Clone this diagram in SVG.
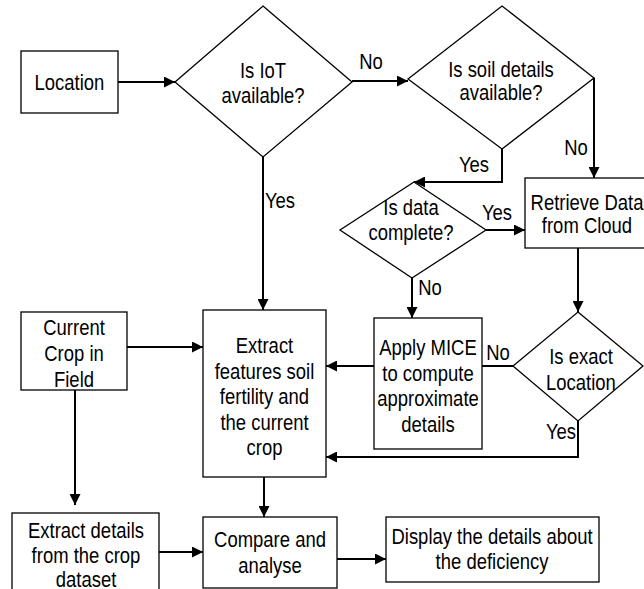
<svg xmlns="http://www.w3.org/2000/svg" width="644" height="589" viewBox="0 0 644 589">
<style>
.s{fill:#fff;stroke:#000;stroke-width:1.3}
.c{fill:none;stroke:#000;stroke-width:2}
text{font-family:"Liberation Sans",Arial,sans-serif;font-size:22px;fill:#000;text-anchor:middle;transform-box:fill-box;transform-origin:center;transform:scaleX(0.84)}
</style>
<defs>
<marker id="a" markerUnits="userSpaceOnUse" markerWidth="11" markerHeight="11" refX="11" refY="5.5" orient="auto" viewBox="0 0 11 11"><path d="M0,0 L11,5.5 L0,11 z" fill="#000"/></marker>
</defs>
<rect width="644" height="589" fill="#fff"/>
<g id="connectors">
<path class="c" d="M118,82 H175" marker-end="url(#a)"/>
<path class="c" d="M352,81 H408" marker-end="url(#a)"/>
<path class="c" d="M594,78 V178" marker-end="url(#a)"/>
<path class="c" d="M502,149 V182 H414" marker-end="url(#a)"/>
<path class="c" d="M486,230 H525" marker-end="url(#a)"/>
<path class="c" d="M578,248 V312" marker-end="url(#a)"/>
<path class="c" d="M412,278 V318" marker-end="url(#a)"/>
<path class="c" d="M513,366 H482"/>
<path class="c" d="M374,366 H326" marker-end="url(#a)"/>
<path class="c" d="M578,421 V457 H326" marker-end="url(#a)"/>
<path class="c" d="M263,157 V310" marker-end="url(#a)"/>
<path class="c" d="M127,347 H203" marker-end="url(#a)"/>
<path class="c" d="M75,390 V505" marker-end="url(#a)"/>
<path class="c" d="M264,477 V517" marker-end="url(#a)"/>
<path class="c" d="M159,552 H203" marker-end="url(#a)"/>
<path class="c" d="M337,559 H386" marker-end="url(#a)"/>
<text x="371" y="69">No</text>
<text x="576" y="155">No</text>
<text x="474" y="172">Yes</text>
<text x="497" y="220">Yes</text>
<text x="430" y="295">No</text>
<text x="498" y="360">No</text>
<text x="561" y="439">Yes</text>
<text x="280" y="208">Yes</text>
</g>
<g id="location"><rect class="s" x="21" y="51" width="97" height="62"/><text x="69.5" y="90">Location</text></g>
<g id="iot"><path class="s" d="M263,6 L352,82 L263,157 L175,82 Z"/><text x="263" y="78">Is IoT</text><text x="263" y="103">available?</text></g>
<g id="soil"><path class="s" d="M502,6 L594,78 L502,149 L408,79 Z"/><text x="501" y="77">Is soil details</text><text x="501" y="100">available?</text></g>
<g id="complete"><path class="s" d="M414,182 L486,230 L412,278 L340,230 Z"/><text x="411" y="215">Is data</text><text x="411" y="240">complete?</text></g>
<g id="retrieve"><rect class="s" x="525" y="178" width="140" height="70"/><text x="587" y="210">Retrieve Data</text><text x="587" y="233">from Cloud</text></g>
<g id="exact"><path class="s" d="M578,312 L643,366 L578,421 L513,366 Z"/><text x="581" y="364">Is exact</text><text x="581" y="390">Location</text></g>
<g id="mice"><rect class="s" x="374" y="318" width="108" height="131"/><text x="428" y="355">Apply MICE</text><text x="428" y="381">to compute</text><text x="428" y="406">approximate</text><text x="428" y="432">details</text></g>
<g id="extract"><rect class="s" x="203" y="310" width="123" height="167"/><text x="264.5" y="353">Extract</text><text x="264.5" y="379">features soil</text><text x="264.5" y="404">fertility and</text><text x="264.5" y="430">the current</text><text x="264.5" y="455">crop</text></g>
<g id="current"><rect class="s" x="21" y="312" width="106" height="78"/><text x="74" y="335">Current</text><text x="74" y="361">Crop in</text><text x="74" y="387">Field</text></g>
<g id="details"><rect class="s" x="12" y="513" width="147" height="80"/><text x="86" y="538">Extract details</text><text x="86" y="563">from the crop</text><text x="86" y="587">dataset</text></g>
<g id="compare"><rect class="s" x="203" y="517" width="134" height="71"/><text x="270" y="547">Compare and</text><text x="270" y="573">analyse</text></g>
<g id="display"><rect class="s" x="386" y="517" width="213" height="65"/><text x="492" y="544">Display the details about</text><text x="492" y="569">the deficiency</text></g>
</svg>
